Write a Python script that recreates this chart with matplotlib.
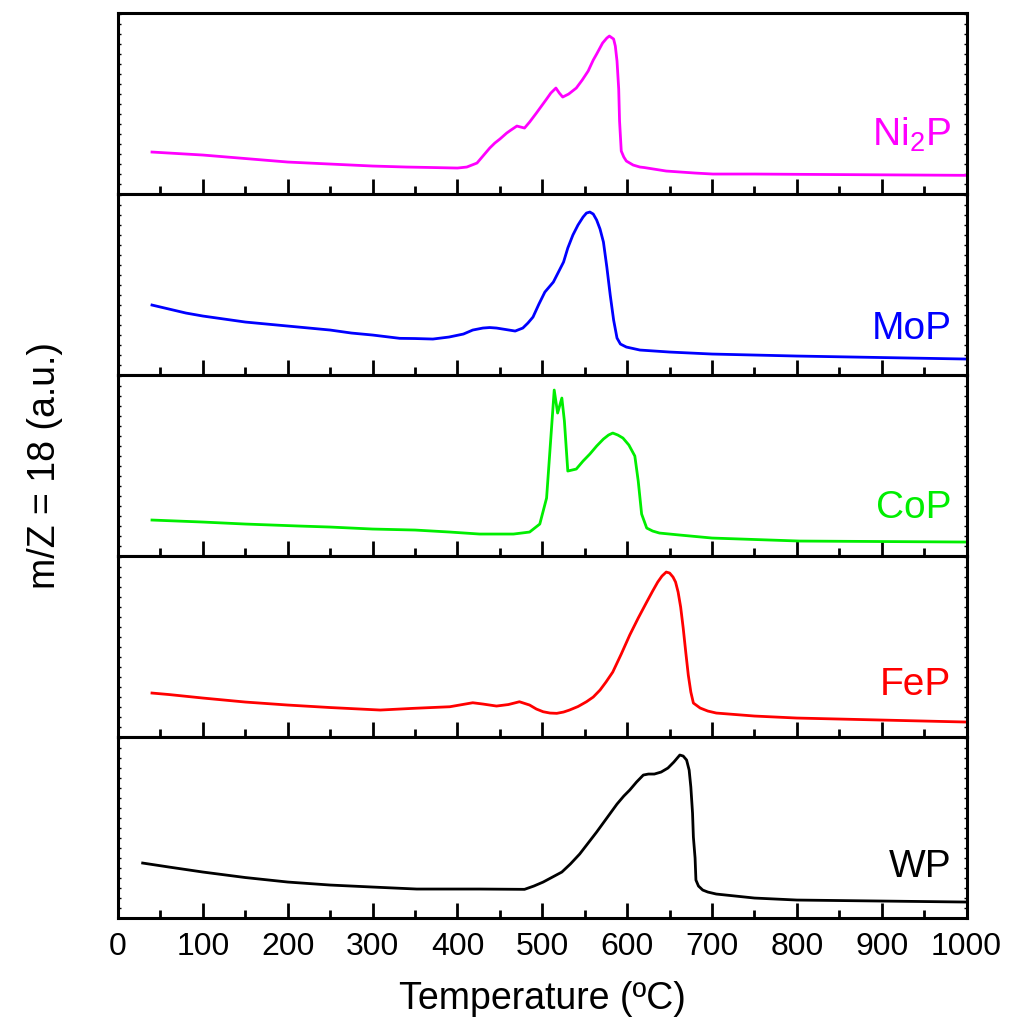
import matplotlib.pyplot as plt
from matplotlib.ticker import MultipleLocator

plt.rcParams['font.family'] = ['Liberation Sans', 'DejaVu Sans']
plt.rcParams['mathtext.fontset'] = 'custom'
plt.rcParams['mathtext.rm'] = 'Liberation Sans'

# m/Z = 18 signal vs temperature for each phosphide (arbitrary units)
ni2p_T = [40, 100, 150, 200, 250, 300, 340, 371, 400, 411, 423, 430, 438, 444, 450,
          458, 463, 470, 479, 485, 493, 499, 505, 510, 516, 520, 524, 531, 540, 547,
          554, 560, 564, 571, 576, 579, 584, 586, 588, 590, 591, 593, 596, 599, 607,
          615, 620, 646, 680, 701, 750, 803, 1000]
ni2p_s = [42, 39, 35.5, 32, 30, 28, 27, 26.5, 26, 27, 31, 38, 46, 51, 55,
          61, 64, 68, 66, 72, 81, 88, 95, 101, 106, 101, 97, 100, 106, 114,
          123, 134, 140, 151, 156, 158, 155, 148, 133, 105, 73, 43, 37, 33, 29,
          27, 26.5, 23, 21, 20, 20, 19.7, 18.7]

mop_T = [40, 60, 80, 100, 125, 150, 175, 200, 225, 250, 275, 300, 332, 350, 371,
         390, 407, 418, 430, 438, 446, 457, 468, 477, 483, 489, 496, 503, 508, 513,
         519, 525, 530, 536, 542, 548, 552, 556, 560, 564, 568, 572, 576, 580, 584,
         588, 592, 599, 615, 650, 700, 800, 1000]
mop_s = [70, 66, 62, 59, 56, 53, 51, 49, 47, 45, 42, 40, 36.7, 36.5, 36,
         38, 41, 45, 47, 47.5, 47, 45.5, 44, 47, 52, 58, 71, 83, 88, 93,
         103, 113, 127, 140, 150, 158, 162, 163, 161, 155, 146, 133, 108, 80, 55,
         37, 31, 28, 25, 23, 21, 19, 16]

cop_T = [40, 100, 150, 214, 250, 300, 350, 391, 426, 450, 466, 485, 497, 505, 510,
         514, 518, 523, 526, 530, 540, 548, 556, 564, 572, 578, 583, 589, 595, 602,
         609, 613, 617, 623, 630, 638, 662, 700, 803, 1000]
cop_s = [36, 34, 32, 30, 29, 27, 26, 24, 22, 22, 22, 24, 32, 58, 118,
         166, 143, 158, 135, 85, 87, 95, 102, 110, 117, 121, 123, 121, 118, 111,
         100, 75, 42, 28, 25, 23, 21, 18, 15, 14]

fep_T = [40, 60, 100, 150, 200, 250, 309, 348, 391, 418, 430, 446, 460, 473, 485,
         493, 501, 509, 517, 525, 532, 542, 552, 560, 568, 575, 583, 593, 603, 613,
         623, 630, 636, 641, 646, 650, 654, 657, 660, 663, 666, 669, 672, 675, 678,
         686, 695, 705, 750, 800, 900, 1000]
fep_s = [44, 42.5, 39, 35, 32, 29.5, 27, 28.7, 30.3, 34.3, 33, 31, 32.5, 35.3, 32,
         28, 25.3, 24, 23.7, 25, 27, 30.5, 35.3, 40, 47, 55, 65, 83, 102, 119,
         135, 146, 155, 161, 165, 164, 160, 155, 145, 130, 109, 85, 62, 45, 34,
         29, 26, 24, 21, 19, 17, 15]

wp_T = [29, 60, 100, 150, 200, 250, 300, 352, 400, 426, 479, 490, 501, 512, 523,
        533, 544, 554, 564, 576, 588, 596, 603, 611, 619, 625, 632, 640, 648, 655,
        662, 666, 670, 673, 675, 677, 678, 680, 681, 684, 689, 695, 705, 750, 800,
        900, 1000]
wp_s = [55, 51, 46, 40.5, 36, 33, 31, 29, 29, 29, 28.7, 32, 36, 41, 46,
        54, 64, 75, 86, 100, 114, 122, 128, 136, 143, 144, 144, 146, 150, 156,
        163, 162, 158, 148, 131, 105, 81, 60, 38, 32, 28, 26, 24, 20, 18,
        17, 16]

series = [
    (ni2p_T, ni2p_s, '#FF00FF', 'Ni$_\\mathregular{2}$P', 48),
    (mop_T, mop_s, '#0000FF', 'MoP', 36),
    (cop_T, cop_s, '#00EE00', 'CoP', 38),
    (fep_T, fep_s, '#FF0000', 'FeP', 42),
    (wp_T, wp_s, '#000000', 'WP', 41),
]

fig, axes = plt.subplots(5, 1, sharex=True, figsize=(10.09, 10.35), dpi=100)
fig.subplots_adjust(left=0.117, right=0.958, top=0.9874, bottom=0.113, hspace=0)

for ax, (T, s, color, name, label_y) in zip(axes, series):
    ax.plot(T, s, color=color, lw=2)
    ax.text(982, label_y, name, color=color, fontsize=28, ha='right', va='baseline')
    ax.set_ylim(0, 181)
    ax.set_xlim(0, 1000)
    for sp in ax.spines.values():
        sp.set_linewidth(2.2)
    ax.xaxis.set_major_locator(MultipleLocator(100))
    ax.xaxis.set_minor_locator(MultipleLocator(50))
    ax.yaxis.set_major_locator(MultipleLocator(10))
    ax.tick_params(axis='x', which='major', direction='in', length=11, width=2,
                   top=False, labelsize=23, pad=10)
    ax.tick_params(axis='x', which='minor', direction='in', length=6, width=2, top=False)
    ax.tick_params(axis='y', which='major', direction='in', length=2, width=1,
                   left=True, right=True, labelleft=False)

axes[-1].set_xlabel('Temperature (ºC)', fontsize=27, labelpad=14)
fig.text(0.045, 0.55, 'm/Z = 18 (a.u.)', rotation=90, fontsize=27,
         ha='center', va='center')

plt.savefig('out.png', dpi=100)
